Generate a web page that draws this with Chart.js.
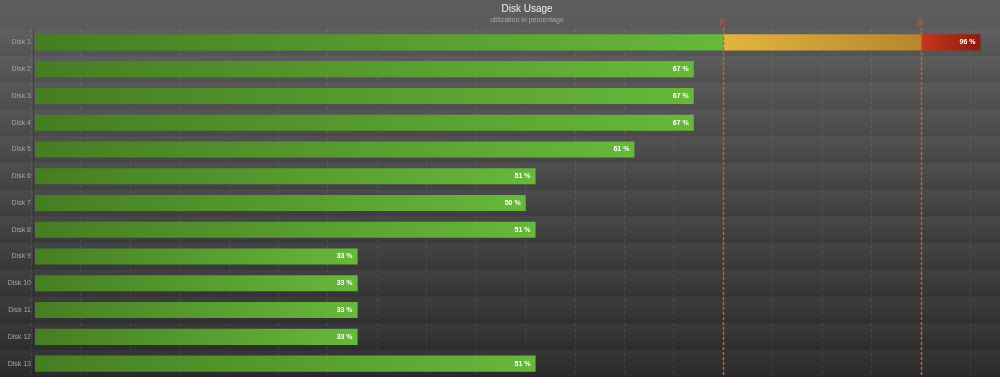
<!DOCTYPE html>
<html>
<head>
<meta charset="utf-8">
<script src="https://cdn.jsdelivr.net/npm/chart.js@4/dist/chart.umd.min.js"></script>
<style>
html,body{margin:0;padding:0;background:#4a4a4a;overflow:hidden;width:1000px;height:377px;}
canvas{display:block;}
</style>
</head>
<body>
<canvas id="c" width="1054" height="377" style="width:1054px;height:377px;"></canvas>
<script>
const categories = ['Disk 1','Disk 2','Disk 3','Disk 4','Disk 5','Disk 6','Disk 7','Disk 8','Disk 9','Disk 10','Disk 11','Disk 12','Disk 13'];
const usage = [96, 67, 67, 67, 61, 51, 50, 51, 33, 33, 33, 33, 51];
const thresholds = [70, 90];
const gridTicks = [0,5,10,15,20,25,30,35,40,45,50,55,60,65,70,75,80,85,90,95,100];
const titleText = 'Disk Usage';
const subtitleText = 'utilization in percentage';

const GREEN = ['#457d22', '#67b83b'];
const YELLOW = ['#e3b53d', '#b7852e'];
const RED = ['#c9361b', '#881b0e'];

function barFill(ctx) {
  const chart = ctx.chart;
  if (!chart.chartArea || !chart.scales.x) return GREEN[1];
  const xs = chart.scales.x;
  const v = ctx.raw;
  const x0 = xs.getPixelForValue(0);
  const x1 = xs.getPixelForValue(v);
  const g = chart.ctx.createLinearGradient(x0, 0, x1, 0);
  const t = (val) => Math.min(1, Math.max(0, (xs.getPixelForValue(val) - x0) / (x1 - x0)));
  if (v <= thresholds[0]) {
    g.addColorStop(0, GREEN[0]); g.addColorStop(1, GREEN[1]);
    return g;
  }
  const t1 = t(thresholds[0]);
  g.addColorStop(0, GREEN[0]);
  g.addColorStop(t1, GREEN[1]);
  g.addColorStop(Math.min(1, t1 + 0.0005), YELLOW[0]);
  if (v <= thresholds[1]) {
    g.addColorStop(1, YELLOW[1]);
    return g;
  }
  const t2 = t(thresholds[1]);
  g.addColorStop(t2, YELLOW[1]);
  g.addColorStop(Math.min(1, t2 + 0.0005), RED[0]);
  g.addColorStop(1, RED[1]);
  return g;
}

const bgPlugin = {
  id: 'bg',
  beforeDraw(chart) {
    const c = chart.ctx, W = chart.width, H = chart.height;
    c.save();
    const g = c.createLinearGradient(0, 0, 0, H);
    g.addColorStop(0, '#5e5e5e');
    g.addColorStop(1, '#2b2b2b');
    c.fillStyle = g;
    c.fillRect(0, 0, W, H);
    const ys = chart.scales.y;
    if (ys) {
      const n = categories.length;
      for (let i = 0; i < n; i++) {
        const yc = ys.getPixelForValue(i);
        const half = (ys.getPixelForValue(1) - ys.getPixelForValue(0)) / 2;
        const top = yc - half, bot = yc + half;
        const rg = c.createLinearGradient(0, top, 0, bot);
        rg.addColorStop(0, 'rgba(255,255,255,0.035)');
        rg.addColorStop(1, 'rgba(0,0,0,0.045)');
        c.fillStyle = rg;
        c.fillRect(0, top, W, bot - top);
      }
    }
    c.restore();
  },
  afterDraw(chart) {
    const c = chart.ctx;
    const xs = chart.scales.x, area = chart.chartArea;
    c.save();
    thresholds.forEach(th => {
      const xi = Math.round(xs.getPixelForValue(th));
      c.fillStyle = 'rgb(200,98,38)';
      for (let y = 27; y < chart.height; y += 5) {
        c.fillRect(xi - 0.25, y, 1.5, 3);
      }
      c.save();
      c.translate(xi + 0.5, 22);
      c.rotate(-Math.PI / 2);
      c.fillStyle = 'rgb(214,98,40)';
      c.font = '7px "Liberation Sans", Arial, sans-serif';
      c.textAlign = 'center';
      c.textBaseline = 'middle';
      c.fillText(String(th), 0, 0);
      c.restore();
    });
    const meta = chart.getDatasetMeta(0);
    c.fillStyle = '#ffffff';
    c.font = 'bold 7px "Liberation Sans", Arial, sans-serif';
    c.textAlign = 'right';
    c.textBaseline = 'middle';
    meta.data.forEach((el, i) => {
      c.fillText(usage[i] + ' %', el.x - 5, el.y);
    });
    c.fillStyle = 'rgba(30,30,30,0.35)';
    c.fillRect(Math.round(area.left) - 2, area.top, 1, chart.height - area.top);
    c.restore();
  }
};

new Chart(document.getElementById('c'), {
  type: 'bar',
  data: {
    labels: categories,
    datasets: [{
      data: usage,
      backgroundColor: barFill,
      borderWidth: 0,
      barPercentage: 0.6,
      categoryPercentage: 1.0
    }]
  },
  options: {
    indexAxis: 'y',
    responsive: false,
    devicePixelRatio: 1,
    animation: false,
    events: [],
    layout: { padding: 0 },
    plugins: {
      legend: { display: false },
      tooltip: { enabled: false },
      title: {
        display: true,
        text: titleText,
        color: '#eeeeee',
        font: { size: 10, family: '"Liberation Sans", Arial, sans-serif', weight: 'normal', lineHeight: 1.2 },
        padding: { top: 3, bottom: 0 }
      },
      subtitle: {
        display: true,
        text: subtitleText,
        color: '#a8a8a8',
        font: { size: 7, family: '"Liberation Sans", Arial, sans-serif', lineHeight: 1.2 },
        padding: { top: 1, bottom: 4.6 }
      }
    },
    scales: {
      x: {
        min: 0.37,
        max: 103.44,
        afterBuildTicks(scale) { scale.ticks = gridTicks.map(v => ({ value: v })); },
        afterFit(scale) { scale.height = 0; scale.paddingLeft = 0; scale.paddingRight = 0; },
        ticks: { display: false, padding: 0 },
        grid: {
          color: 'rgba(255,255,255,0.09)',
          lineWidth: 1,
          drawTicks: false
        },
        border: { display: false, dash: [3, 3] }
      },
      y: {
        afterFit(scale) { scale.width = 35; scale.paddingTop = 0; scale.paddingBottom = 0; },
        ticks: {
          color: '#a4a4a4',
          font: { size: 7, family: '"Liberation Sans", Arial, sans-serif' },
          padding: 4
        },
        grid: { display: false, drawTicks: false },
        border: { display: false }
      }
    }
  },
  plugins: [bgPlugin]
});
</script>
</body>
</html>
